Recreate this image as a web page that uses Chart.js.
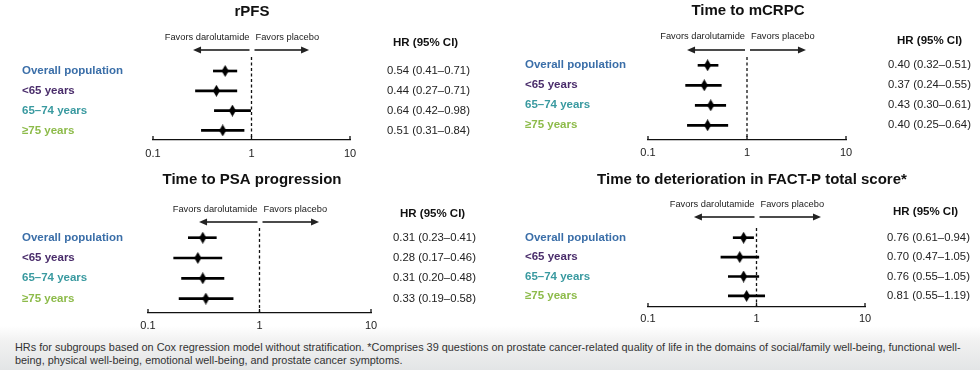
<!DOCTYPE html>
<html>
<head>
<meta charset="utf-8">
<script src="https://cdn.jsdelivr.net/npm/chart.js@4.4.1/dist/chart.umd.min.js"></script>
<style>
  html, body { margin: 0; padding: 0; background: #fff; }
  body { width: 980px; height: 370px; position: relative; overflow: hidden; font-family: "Liberation Sans", Arial, sans-serif; }
  .panel { position: absolute; width: 490px; height: 172px; z-index: 2; }
  #footer {
    position: absolute; left: 0; top: 326px; width: 980px; height: 44px; z-index: 1;
    background: linear-gradient(to bottom, rgba(255,255,255,0) 0%, #f1f1f1 35%, #e3e5e6 100%);
  }
  #footer p { margin: 0; position: absolute; left: 15px; top: 15px; font-size: 10.9px; line-height: 13px; color: #333; white-space: nowrap; }
</style>
</head>
<body>
<div id="footer"><p>HRs for subgroups based on Cox regression model without stratification. *Comprises 39 questions on prostate cancer-related quality of life in the domains of social/family well-being, functional well-<br>being, physical well-being, emotional well-being, and prostate cancer symptoms.</p></div>
<div class="panel" style="left:0;top:0"><canvas id="c1" width="490" height="172"></canvas></div>
<div class="panel" style="left:490px;top:0"><canvas id="c2" width="490" height="172"></canvas></div>
<div class="panel" style="left:0;top:165px"><canvas id="c3" width="490" height="172"></canvas></div>
<div class="panel" style="left:490px;top:165px"><canvas id="c4" width="490" height="172"></canvas></div>

<script>
// subgroups
const groups = ['Overall population', '<65 years', '65–74 years', '≥75 years'];
const groupColors = ['#3a6ea8', '#4a2d6b', '#3a9aa0', '#8dbb4a'];

// hazard ratios and 95% CI
const rpfsHR   = [0.54, 0.44, 0.64, 0.51];
const rpfsLow  = [0.41, 0.27, 0.42, 0.31];
const rpfsHigh = [0.71, 0.71, 0.98, 0.84];

const mcrpcHR   = [0.40, 0.37, 0.43, 0.40];
const mcrpcLow  = [0.32, 0.24, 0.30, 0.25];
const mcrpcHigh = [0.51, 0.55, 0.61, 0.64];

const psaHR   = [0.31, 0.28, 0.31, 0.33];
const psaLow  = [0.23, 0.17, 0.20, 0.19];
const psaHigh = [0.41, 0.46, 0.48, 0.58];

const factHR   = [0.76, 0.70, 0.76, 0.81];
const factLow  = [0.61, 0.47, 0.55, 0.55];
const factHigh = [0.94, 1.05, 1.05, 1.19];

const xTicks = [0.1, 1, 10];
const xTickLabels = ['0.1', '1', '10'];

// narrow diamond for the point estimates
function makeDiamond() {
  const c = document.createElement('canvas');
  c.width = 7; c.height = 12;
  const g = c.getContext('2d');
  g.fillStyle = '#000';
  g.beginPath();
  g.moveTo(3.5, 0); g.lineTo(7, 6); g.lineTo(3.5, 12); g.lineTo(0, 6);
  g.closePath(); g.fill();
  return c;
}
const diamond = makeDiamond();

const fmt = v => v.toFixed(2);

// draws title, header, favors text + arrows, small up ticks
const decor = {
  id: 'decor',
  afterDraw(chart, args, o) {
    const ctx = chart.ctx;
    const xs = chart.scales.x;
    const area = chart.chartArea;
    const x1 = xs.getPixelForValue(1);
    ctx.save();
    ctx.fillStyle = '#111';
    ctx.strokeStyle = '#111';
    ctx.textBaseline = 'middle';

    ctx.font = 'bold 15px "Liberation Sans", Arial, sans-serif';
    ctx.textAlign = 'center';
    ctx.fillText(o.title, o.titleX, o.titleY);

    ctx.font = 'bold 11.5px "Liberation Sans", Arial, sans-serif';
    ctx.textAlign = 'left';
    ctx.fillText('HR (95% CI)', o.headX, o.headY);

    ctx.font = '9.3px "Liberation Sans", Arial, sans-serif';
    ctx.fillStyle = '#222';
    ctx.textAlign = 'right';
    ctx.fillText('Favors darolutamide', x1 - 2, o.favY);
    ctx.textAlign = 'left';
    ctx.fillText('Favors placebo', x1 + 4, o.favY);

    // arrows
    const lx = xs.getPixelForValue(o.arrowL), rx = xs.getPixelForValue(o.arrowR);
    ctx.lineWidth = 1.3;
    ctx.beginPath();
    ctx.moveTo(x1 - 2, o.arrY); ctx.lineTo(lx + 4, o.arrY);
    ctx.moveTo(x1 + 3, o.arrY); ctx.lineTo(rx - 4, o.arrY);
    ctx.stroke();
    ctx.beginPath();
    ctx.moveTo(lx, o.arrY); ctx.lineTo(lx + 8, o.arrY - 3.5); ctx.lineTo(lx + 8, o.arrY + 3.5); ctx.closePath();
    ctx.moveTo(rx, o.arrY); ctx.lineTo(rx - 8, o.arrY - 3.5); ctx.lineTo(rx - 8, o.arrY + 3.5); ctx.closePath();
    ctx.fill();

    // tick marks pointing up
    ctx.lineWidth = 1.3;
    ctx.beginPath();
    xTicks.forEach(v => {
      const p = xs.getPixelForValue(v);
      ctx.moveTo(p, area.bottom); ctx.lineTo(p, area.bottom - 4);
    });
    ctx.stroke();
    ctx.restore();
  }
};

function forest(id, cfg) {
  const { hr, low, high, x01, x10, axisY, rowY, rowStep, topY, labelX, hrX, tickPad } = cfg;
  const yMin = -(rowY - topY) / rowStep;
  const yMax = (axisY - rowY) / rowStep;
  const hrText = hr.map((v, i) => `${fmt(v)} (${fmt(low[i])}–${fmt(high[i])})`);
  const yCommon = {
    type: 'linear', reverse: true, min: yMin, max: yMax, offset: false,
    border: { display: false },
    afterBuildTicks: s => { s.ticks = groups.map((g, i) => ({ value: i })); }
  };
  new Chart(document.getElementById(id), {
    type: 'bar',
    data: {
      datasets: [
        {
          type: 'bar', indexAxis: 'y',
          data: low.map((v, i) => ({ x: [v, high[i]], y: i })),
          backgroundColor: '#000', barThickness: 2, borderWidth: 0
        },
        {
          type: 'line', showLine: false,
          data: hr.map((v, i) => ({ x: v, y: i })),
          pointStyle: diamond, pointRadius: 6
        },
        {
          type: 'line',
          data: [{ x: 1, y: yMin }, { x: 1, y: yMax }],
          borderColor: '#111', borderWidth: 1.3, borderDash: [3, 2.5], pointRadius: 0
        }
      ]
    },
    options: {
      responsive: false, animation: false,
      layout: { padding: { left: labelX, top: topY, right: 0, bottom: 0 } },
      plugins: { legend: { display: false }, tooltip: { enabled: false }, decor: cfg.decor },
      scales: {
        x: {
          type: 'logarithmic', min: 0.1, max: 10, offset: false,
          afterBuildTicks: s => { s.ticks = xTicks.map(v => ({ value: v })); },
          afterFit: s => { s.height = s.chart.height - axisY; },
          grid: { display: false, drawTicks: false, offset: false },
          border: { display: true, color: '#111', width: 1.3 },
          ticks: {
            autoSkip: false, maxRotation: 0, padding: tickPad, color: '#222',
            font: { size: 11, family: '"Liberation Sans", Arial, sans-serif' },
            callback: (v, i) => xTickLabels[i]
          }
        },
        y: Object.assign({}, yCommon, {
          position: 'left',
          grid: { display: false, drawTicks: false, offset: false },
          afterFit: s => { s.width = x01 - labelX; },
          ticks: {
            autoSkip: false, crossAlign: 'far', padding: 0,
            color: c => groupColors[c.index],
            font: { size: 11.5, weight: 'bold', family: '"Liberation Sans", Arial, sans-serif' },
            callback: (v, i) => groups[i]
          }
        }),
        yR: Object.assign({}, yCommon, {
          position: 'right',
          // tick length used as the gap between plot and HR column
          grid: { display: false, drawTicks: true, tickLength: hrX - x10, offset: false },
          afterFit: s => { s.width = 490 - x10; },
          ticks: {
            autoSkip: false, crossAlign: 'near', padding: 0, color: '#222',
            font: { size: 11.3, family: '"Liberation Sans", Arial, sans-serif' },
            callback: (v, i) => hrText[i]
          }
        })
      }
    },
    plugins: [decor]
  });
}

Chart.defaults.font.family = '"Liberation Sans", Arial, sans-serif';

forest('c1', {
  hr: rpfsHR, low: rpfsLow, high: rpfsHigh,
  x01: 153, x10: 350, axisY: 140, rowY: 71, rowStep: 19.8, topY: 57, labelX: 22, hrX: 387, tickPad: 7,
  decor: { title: 'rPFS', titleX: 252, titleY: 12, headX: 393, headY: 43, favY: 37, arrY: 50, arrowL: 0.255, arrowR: 3.84 }
});
forest('c2', {
  hr: mcrpcHR, low: mcrpcLow, high: mcrpcHigh,
  x01: 158, x10: 356, axisY: 140, rowY: 65.3, rowStep: 20, topY: 57, labelX: 35, hrX: 398, tickPad: 6,
  decor: { title: 'Time to mCRPC', titleX: 258, titleY: 11, headX: 407, headY: 41, favY: 36, arrY: 50, arrowL: 0.248, arrowR: 3.94 }
});
forest('c3', {
  hr: psaHR, low: psaLow, high: psaHigh,
  x01: 148, x10: 371, axisY: 148, rowY: 72.7, rowStep: 20.3, topY: 63, labelX: 22, hrX: 393, tickPad: 6,
  decor: { title: 'Time to PSA progression', titleX: 252, titleY: 15, headX: 400, headY: 49, favY: 44, arrY: 57, arrowL: 0.287, arrowR: 3.42 }
});
forest('c4', {
  hr: factHR, low: factLow, high: factHigh,
  x01: 158, x10: 375, axisY: 142, rowY: 72.7, rowStep: 19.4, topY: 63, labelX: 35, hrX: 397, tickPad: 5,
  decor: { title: 'Time to deterioration in FACT-P total score*', titleX: 262, titleY: 15, headX: 403, headY: 47, favY: 39, arrY: 52, arrowL: 0.265, arrowR: 3.93 }
});
</script>
</body>
</html>
